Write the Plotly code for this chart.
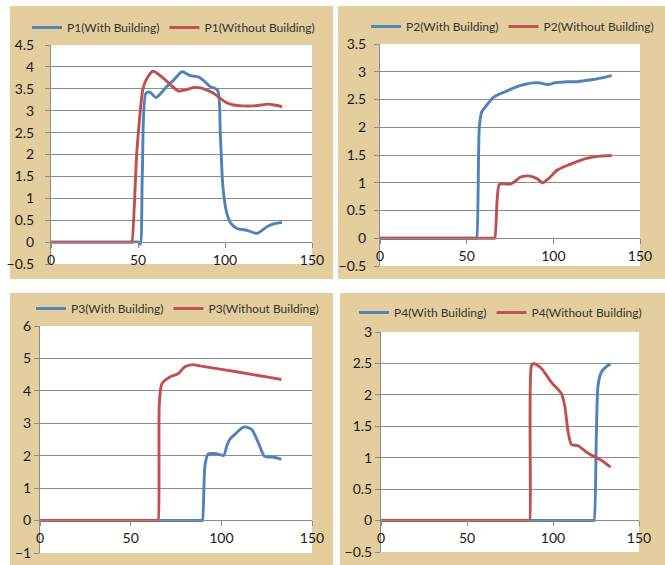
import plotly.graph_objects as go

# ---------------- data ----------------
p1_with_x = [0, 45, 50.3, 51.3, 52.5, 54.6, 57, 60.3, 66.7, 71, 75.3, 80, 84.8, 88, 91.5, 95.7, 97.3, 98.8, 101.1, 103.5, 106.9, 112.6, 118.4, 124.1, 128.5, 132.8]
p1_with_y = [0, 0, 0, -0.05, 1.6, 3.40, 3.42, 3.30, 3.56, 3.72, 3.89, 3.80, 3.77, 3.68, 3.55, 3.47, 2.48, 1.26, 0.65, 0.42, 0.31, 0.27, 0.20, 0.35, 0.42, 0.45]
p1_wo_x = [0, 42, 46.2, 46.5, 49.4, 52.9, 55.2, 58.6, 64.7, 69, 73.3, 78, 82, 86, 89.7, 93.5, 97.3, 101, 104.9, 110, 116.4, 121, 124.1, 128.5, 132.8]
p1_wo_y = [0, 0, 0, 0, 2.10, 3.51, 3.74, 3.90, 3.74, 3.58, 3.45, 3.48, 3.53, 3.52, 3.47, 3.40, 3.28, 3.18, 3.13, 3.11, 3.11, 3.13, 3.15, 3.13, 3.09]

p2_with_x = [0, 50, 55.5, 55.8, 57.3, 58.7, 60.6, 65.4, 69, 73.1, 76.5, 80.8, 84.5, 88.5, 92, 97.1, 100.5, 103.8, 108, 113.5, 118, 123.1, 128, 133.7]
p2_with_y = [0, 0, 0, 0, 2.00, 2.28, 2.36, 2.54, 2.60, 2.65, 2.70, 2.75, 2.78, 2.80, 2.80, 2.77, 2.80, 2.81, 2.82, 2.82, 2.84, 2.86, 2.89, 2.93]
p2_wo_x = [0, 62, 66.0, 66.3, 67.6, 68.8, 71.2, 75.6, 78.5, 80.8, 83.5, 86.5, 90.8, 93.8, 97.1, 101.9, 105.5, 109.6, 114.5, 119.2, 126.9, 133.7]
p2_wo_y = [0, 0, 0, 0, 0.70, 0.97, 0.98, 0.98, 1.04, 1.10, 1.12, 1.12, 1.07, 1.00, 1.07, 1.22, 1.28, 1.33, 1.39, 1.44, 1.48, 1.49]

p3_with_x = [0, 85, 89.3, 89.6, 91, 92.7, 95, 97.3, 101.3, 103, 104.6, 108.3, 111, 112.9, 116.6, 120.2, 123.9, 128.5, 133.1]
p3_with_y = [0, 0, 0, 0, 1.71, 2.05, 2.07, 2.06, 2.01, 2.30, 2.50, 2.70, 2.84, 2.89, 2.82, 2.43, 1.98, 1.96, 1.89]
p3_wo_x = [0, 60, 64.9, 65.2, 65.8, 67.2, 71.6, 76.2, 79.9, 84.5, 88.1, 102.8, 117.5, 125, 133.1]
p3_wo_y = [0, 0, 0, 0, 3.60, 4.22, 4.43, 4.53, 4.74, 4.81, 4.77, 4.64, 4.50, 4.43, 4.35]

p4_with_x = [0, 118, 123.6, 123.9, 125.2, 126.2, 128.1, 131, 133.5]
p4_with_y = [0, 0, 0, 0, 1.36, 2.15, 2.36, 2.45, 2.49]
p4_wo_x = [0, 82, 86.2, 86.5, 87.5, 88.8, 93.3, 99.1, 104.9, 106.8, 108.8, 110.7, 114.6, 120.4, 128.1, 133.5]
p4_wo_y = [0, 0, 0, 0, 2.47, 2.50, 2.42, 2.20, 2.02, 1.83, 1.41, 1.21, 1.19, 1.07, 0.96, 0.85]

x_ticks = [0, 50, 100, 150]
y_ranges = [[-0.5, 4.5], [-0.5, 3.5], [-1, 6], [-0.5, 3]]
y_dticks = [0.5, 0.5, 1, 0.5]
names = ["P1", "P2", "P3", "P4"]

# ---------------- layout geometry (pixels) ----------------
W, H = 665, 565
BLUE = "#4F81BD"
RED = "#C0504D"
GRID = "#8C8C8C"
PARCH = "#E5CE9D"
FONT = "Lato"

def px(x):
    return x / W

def py(y):
    return 1 - y / H

# plot areas: (left, right, top, bottom) in px, and y px of the zero line
areas = [
    (51, 312, 45, 264, 242),
    (380, 640, 44, 266, 238),
    (40, 312, 326, 553, 520),
    (381, 639, 332, 552, 520),
]
backs = [(10, 333, 6, 279), (338, 665, 6, 279), (10, 333, 293, 565), (340, 665, 293, 565)]
legend_pos = [(27, 27.5), (366, 26.5), (31, 308.5), (354, 312.5)]
standoffs = [8, 5, 0, 0]

series = [
    (p1_with_x, p1_with_y, p1_wo_x, p1_wo_y),
    (p2_with_x, p2_with_y, p2_wo_x, p2_wo_y),
    (p3_with_x, p3_with_y, p3_wo_x, p3_wo_y),
    (p4_with_x, p4_with_y, p4_wo_x, p4_wo_y),
]

fig = go.Figure()
shapes = []
layout = dict(
    width=W, height=H, autosize=False,
    margin=dict(l=0, r=0, t=0, b=0, autoexpand=False),
    paper_bgcolor="white",
    plot_bgcolor="white",
    showlegend=True,
    font=dict(family=FONT, size=14, color="#1a1a1a"),
)

for i in range(4):
    k = i + 1
    sx = "" if k == 1 else str(k)
    xa, ya = "x" + sx, "y" + sx
    lg = "legend" if k == 1 else "legend" + str(k)
    wx, wy, ox, oy = series[i]
    fig.add_trace(go.Scatter(
        x=wx, y=wy, mode="lines", name=f"{names[i]}(With Building)",
        line=dict(color=BLUE, width=2.9, shape="spline", smoothing=0.7),
        xaxis=xa, yaxis=ya, legend=lg, hoverinfo="skip"))
    fig.add_trace(go.Scatter(
        x=ox, y=oy, mode="lines", name=f"{names[i]}(Without Building)",
        line=dict(color=RED, width=2.9, shape="spline", smoothing=0.7),
        xaxis=xa, yaxis=ya, legend=lg, hoverinfo="skip"))

    l, r, t, b, z = areas[i]
    layout["xaxis" + sx] = dict(
        domain=[px(l), px(r)], range=[0, 150], tickvals=x_ticks,
        anchor="free", position=py(z), showline=True, linecolor=GRID, linewidth=1,
        ticks="outside", ticklen=5, tickcolor=GRID, showgrid=False, zeroline=False,
        tickfont=dict(family=FONT, size=14, color="#1a1a1a"), fixedrange=True)
    layout["yaxis" + sx] = dict(
        domain=[py(b), py(t)], range=y_ranges[i], dtick=y_dticks[i], tick0=0,
        anchor=xa, showline=True, linecolor=GRID, linewidth=1,
        ticks="outside", ticklen=5, tickcolor=GRID, showgrid=True, gridcolor=GRID,
        gridwidth=1, zeroline=False, ticklabelstandoff=standoffs[i],
        tickfont=dict(family=FONT, size=14, color="#1a1a1a"), fixedrange=True)
    lx, lyy = legend_pos[i]
    layout[lg] = dict(
        x=px(lx), y=py(lyy), xanchor="left", yanchor="middle", orientation="h",
        bgcolor="rgba(0,0,0,0)", borderwidth=0, tracegroupgap=0,
        font=dict(family=FONT, size=12, color="#333333"), itemclick=False)

    bl, br, bt, bb = backs[i]
    shapes.append(dict(type="rect", xref="paper", yref="paper", x0=px(bl), x1=px(br),
                       y0=py(bb), y1=py(bt), fillcolor=PARCH, line=dict(width=0), layer="below"))
for i in range(4):
    sx = "" if i == 0 else str(i + 1)
    shapes.append(dict(type="rect", xref="x" + sx + " domain", yref="y" + sx + " domain",
                       x0=0, x1=1, y0=0, y1=1, fillcolor="white", line=dict(width=0), layer="below"))

layout["shapes"] = shapes
fig.update_layout(**layout)
fig.write_html(
    "out.html",
    config={"responsive": False, "displayModeBar": False},
    post_script="document.body.style.margin='0px';document.body.style.padding='0px';",
)
